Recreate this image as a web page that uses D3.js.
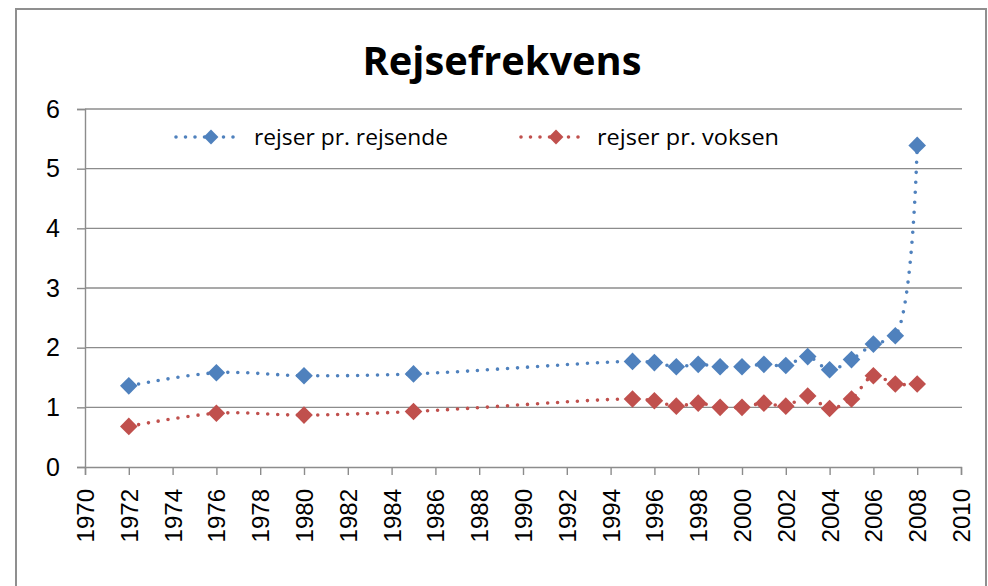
<!DOCTYPE html>
<html>
<head>
<meta charset="utf-8">
<script src="https://cdn.jsdelivr.net/npm/d3@7"></script>
<style>
  html, body { margin: 0; padding: 0; background: #fff; }
  svg { display: block; }
</style>
</head>
<body>
<svg id="chart" width="988" height="586"></svg>
<script>
const years = [1972, 1976, 1980, 1985, 1995, 1996, 1997, 1998, 1999, 2000, 2001, 2002, 2003, 2004, 2005, 2006, 2007, 2008];
const rejserPrRejsende = [1.36, 1.58, 1.53, 1.56, 1.77, 1.75, 1.68, 1.72, 1.68, 1.68, 1.72, 1.70, 1.85, 1.63, 1.80, 2.06, 2.20, 5.39];
const rejserPrVoksen   = [0.68, 0.90, 0.87, 0.93, 1.14, 1.11, 1.02, 1.07, 1.00, 1.00, 1.07, 1.02, 1.19, 0.98, 1.14, 1.53, 1.39, 1.39];
const seriesNames = ["rejser pr. rejsende", "rejser pr. voksen"];
const seriesColors = ["#4F81BD", "#C0504D"];
const xTicks = d3.range(1970, 2011, 2);
const yTicks = [0, 1, 2, 3, 4, 5, 6];
const titleText = "Rejsefrekvens";

const svg = d3.select("#chart");
const x = d3.scaleLinear().domain([1970, 2010]).range([85, 961]);
const y = d3.scaleLinear().domain([0, 6]).range([467, 109]);

// chart border
svg.append("rect").attr("x", 16).attr("y", 9).attr("width", 970).attr("height", 600)
  .attr("fill", "none").attr("stroke", "#8f8f8f").attr("stroke-width", 2);

// title
svg.append("text").attr("x", 502).attr("y", 75).attr("text-anchor", "middle")
  .attr("font-family", "'Open Sans', 'Liberation Sans', sans-serif").attr("font-weight", "bold")
  .attr("font-size", 40).attr("fill", "#000")
  .attr("textLength", 279).attr("lengthAdjust", "spacingAndGlyphs")
  .text(titleText);

// gridlines
svg.append("g").selectAll("line").data(yTicks.filter(d => d > 0)).join("line")
  .attr("x1", x(1970)).attr("x2", x(2010) + 1)
  .attr("y1", d => y(d)).attr("y2", d => y(d))
  .attr("stroke", "#8c8c8c").attr("stroke-width", 1.4);

// y axis
const yAxis = svg.append("g").attr("transform", `translate(${x(1970)},0)`)
  .call(d3.axisLeft(y).tickValues(yTicks).tickSize(8).tickPadding(17).tickFormat(d3.format("d")));
yAxis.select(".domain").attr("stroke", "#8c8c8c").attr("stroke-width", 1.4);
yAxis.selectAll(".tick line").attr("stroke", "#8c8c8c").attr("stroke-width", 1.4);
yAxis.selectAll(".tick text").attr("font-family", "'Liberation Sans', Arial, sans-serif")
  .attr("font-size", 25).attr("fill", "#000");

// x axis
const xAxis = svg.append("g").attr("transform", `translate(0,${y(0)})`)
  .call(d3.axisBottom(x).tickValues(xTicks).tickSize(8).tickFormat(d3.format("d")));
xAxis.select(".domain").attr("stroke", "#8c8c8c").attr("stroke-width", 1.4);
xAxis.selectAll(".tick line").attr("stroke", "#8c8c8c").attr("stroke-width", 1.4);
xAxis.selectAll(".tick text")
  .attr("font-family", "'Liberation Sans', Arial, sans-serif").attr("font-size", 24).attr("fill", "#000")
  .attr("text-anchor", "end").attr("dy", null).attr("y", 0).attr("x", 0)
  .attr("transform", "translate(0,22) rotate(-90)")
  .attr("dominant-baseline", "central");

// series
const allSeries = [rejserPrRejsende, rejserPrVoksen];
const line = d3.line().x(d => x(d[0])).y(d => y(d[1])).curve(d3.curveCatmullRom.alpha(0.5));
const diamond = d3.symbol(d3.symbolSquare, 155);

allSeries.forEach((vals, i) => {
  const pts = years.map((yr, j) => [yr, vals[j]]);
  svg.append("path").datum(pts).attr("d", line)
    .attr("fill", "none").attr("stroke", seriesColors[i]).attr("stroke-width", 3.6)
    .attr("stroke-linecap", "round").attr("stroke-dasharray", "0 10");
  svg.append("g").selectAll("path").data(pts).join("path")
    .attr("d", diamond)
    .attr("transform", d => `translate(${x(d[0])},${y(d[1])}) rotate(45)`)
    .attr("fill", seriesColors[i]);
});

// legend
const legendPos = [{x1: 176, text: 254, w: 194}, {x1: 521, text: 597, w: 182}];
const ly = 137;
seriesNames.forEach((name, i) => {
  const g = svg.append("g");
  const p = legendPos[i];
  g.append("line").attr("x1", p.x1).attr("x2", p.x1 + 62).attr("y1", ly).attr("y2", ly)
    .attr("stroke", seriesColors[i]).attr("stroke-width", 3.6)
    .attr("stroke-linecap", "round").attr("stroke-dasharray", "0 9.5");
  g.append("path").attr("d", d3.symbol(d3.symbolSquare, 110))
    .attr("transform", `translate(${p.x1 + 35},${ly}) rotate(45)`).attr("fill", seriesColors[i]);
  g.append("text").attr("x", p.text).attr("y", ly).attr("dominant-baseline", "central")
    .attr("font-family", "'Open Sans', 'Liberation Sans', sans-serif").attr("font-size", 21)
    .attr("fill", "#000").attr("textLength", p.w).attr("lengthAdjust", "spacingAndGlyphs")
    .text(name);
});
</script>
</body>
</html>
